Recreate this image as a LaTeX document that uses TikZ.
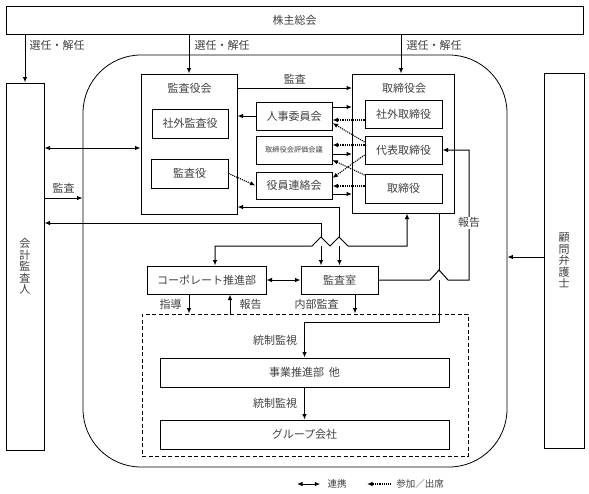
\documentclass[tikz,border=0pt]{standalone}
\usepackage{fontspec}
\setmainfont{Noto Sans CJK JP}
\usetikzlibrary{arrows.meta}

\tikzset{
  box/.style={draw,line width=1pt,inner sep=0pt,align=center,text=black!75},
  lbl/.style={inner sep=1pt,text=black!75},
  conn/.style={line width=1pt},
  sanka/.style={line width=1.1pt,densely dotted},
}

\begin{document}
\begin{tikzpicture}[x=1pt,y=-1pt,>={Latex[length=5.5pt,width=4.5pt]},font=\fontsize{11}{11.5}\selectfont]
  \useasboundingbox (0,0) rectangle (589,493);
  \node[draw,line width=0.8pt,rounded corners=58pt,minimum width=424,minimum height=412] (honsha) at (295,261) {};
  \node[draw,dash pattern=on 4pt off 2.5pt,line width=1pt,minimum width=326,minimum height=142] (tousei) at (305,385) {};
  \begin{scope}[every node/.style={box}]
  \node[minimum width=577,minimum height=28] (soukai) at (294.5,20) {株主総会};
  \node[minimum width=38,minimum height=367] (kaikei) at (25,266.5) {会\\計\\監\\査\\人};
  \node[minimum width=40,minimum height=375] (komon) at (564,260.5) {顧\\問\\弁\\護\\士};
  \node[minimum width=96,minimum height=140] (kansayakukai) at (189,144) {};
  \node[minimum width=102,minimum height=139] (torishimariyakukai) at (403.5,143.5) {};
  \node[minimum width=76,minimum height=29] (shagaikansa) at (190,123.5) {社外監査役};
  \node[minimum width=77,minimum height=29] (kansayaku) at (189.5,173.5) {監査役};
  \node[minimum width=77,minimum height=28] (shagaitori) at (403.5,114) {社外取締役};
  \node[minimum width=77,minimum height=28] (daihyo) at (403.5,150) {代表取締役};
  \node[minimum width=77,minimum height=29] (torishimariyaku) at (403.5,188.5) {取締役};
  \node[minimum width=76,minimum height=28] (jinji) at (294,116) {人事委員会};
  \node[minimum width=76,minimum height=28,font=\fontsize{7.2}{8}\selectfont] (hyoka) at (294,150) {取締役会評価会議};
  \node[minimum width=76,minimum height=27] (renraku) at (294,185.5) {役員連絡会};
  \node[minimum width=119,minimum height=28] (corp) at (206.5,280) {コーポレート推進部};
  \node[minimum width=77,minimum height=28] (kansashitsu) at (339.5,280) {監査室};
  \node[minimum width=289,minimum height=29] (jigyo) at (304.5,372.5) {事業推進部\hspace{0.45em}他};
  \node[minimum width=289,minimum height=29] (groupco) at (304.5,434.5) {グループ会社};
  \end{scope}
  \node[lbl] (kansayakukai-t) at (189.5,88) {監査役会};
  \node[lbl] (torishimariyakukai-t) at (404,88) {取締役会};

  \draw[conn,->] (soukai.south -| kaikei.north) -- node[pos=0.22,right,lbl,xshift=3pt]{選任・解任} (kaikei.north);
  \draw[conn,->] (soukai.south -| kansayakukai.north) -- node[pos=0.28,right,lbl,xshift=4pt]{選任・解任} (kansayakukai.north);
  \draw[conn,->] ([xshift=-2.5pt]soukai.south -| torishimariyakukai.north) -- node[pos=0.28,right,lbl,xshift=4pt]{選任・解任} ([xshift=-2.5pt]torishimariyakukai.north);
  \draw[conn,->] (kansayakukai.east |- kansayakukai-t) -- node[above,lbl,yshift=2pt]{監査} (torishimariyakukai.west |- kansayakukai-t);

  \draw[conn,->] (jinji.west) -- (jinji.west -| kansayakukai.east);
  \draw[conn,->] ([yshift=9pt]jinji.east) -- ([yshift=9pt]jinji.east -| torishimariyakukai.west);
  \draw[conn,->] ([yshift=-4pt]hyoka.east) -- ([yshift=-4pt]hyoka.east -| torishimariyakukai.west);
  \draw[conn,->] ([yshift=-8.5pt]renraku.east) -- ([yshift=-8.5pt]renraku.east -| torishimariyakukai.west);
  \draw[sanka,->] ([yshift=-6pt]shagaitori.west) -- ([yshift=-6pt]shagaitori.west -| jinji.east);
  \draw[sanka,->] ([yshift=8pt]daihyo.west) -- ([yshift=-7pt]jinji.east);
  \draw[sanka,->] ([yshift=5pt]daihyo.west) -- ([yshift=5pt]daihyo.west -| hyoka.east);
  \draw[sanka,->] ([yshift=-5pt]daihyo.west) -- ([yshift=7.5pt]renraku.east);
  \draw[sanka,->] ([yshift=13.5pt]torishimariyaku.west) -- ([yshift=-10pt]hyoka.east);
  \draw[sanka,->] ([yshift=2.5pt]torishimariyaku.west) -- ([yshift=2.5pt]torishimariyaku.west -| renraku.east);
  \draw[sanka,->] (kansayaku.east) -- (renraku.west);

  \draw[conn,<->] ([yshift=-4pt]kansayakukai.west -| kaikei.east) -- ([yshift=-4pt]kansayakukai.west);
  \draw[conn,->] ([yshift=68.5pt]kaikei.east) -- ([yshift=68.5pt]kaikei.east -| honsha.west) node[midway,above,lbl,yshift=3pt]{監査};
  \draw[conn,->] ([yshift=3.5pt]komon.west) -- ([yshift=3.5pt]komon.west -| honsha.east);

  \draw[conn,<->] ([yshift=43.5pt]kaikei.east) -| ([xshift=-18.5pt]kansashitsu.north);
  \draw[conn,<->] ([yshift=-63pt]kansayakukai.east) -| (kansashitsu.north);
  \draw[conn,->] ([xshift=35.5pt]torishimariyakukai.south) |- ([yshift=35pt]jigyo.north) -- node[left,lbl,xshift=-6pt]{統制監視} (jigyo.north);
  \draw[conn,->] (jigyo.south) -- node[left,lbl,xshift=-6pt]{統制監視} (groupco.north);

  \coordinate (hump1) at (312,246);
  \coordinate (hump3) at (430,280);
  \coordinate (rpt) at (469,280);
  \fill[white] (hump1) -- ++(9,-9) -- ++(9,9) -- ++(9,-9) -- ++(9,9) -- cycle;
  \fill[white] (hump3) -- ++(9,-10) -- ++(9,10) -- cycle;
  \draw[conn,<->] ([xshift=8.5pt]corp.north) |- (hump1) -- ++(9,-9) -- ++(9,9) -- ++(9,-9) -- ++(9,9) -| ([xshift=3.5pt]torishimariyakukai.south);
  \draw[conn,->] (kansashitsu.east) -- (hump3) -- ++(9,-10) -- ++(9,10) -- (rpt) |- node[pos=0.22,fill=white,lbl]{報告} (daihyo.east);
  \draw[conn,<->] (corp.east) -- (kansashitsu.west);

  \draw[conn,->] ([xshift=-17.5pt]corp.south) -- ([xshift=-17.5pt]corp.south |- tousei.north) node[midway,left,lbl,xshift=-6pt]{指導};
  \draw[conn,->] ([xshift=23.5pt]corp.south |- tousei.north) -- ([xshift=23.5pt]corp.south) node[midway,right,lbl,xshift=8pt]{報告};
  \draw[conn,->] ([xshift=15.5pt]kansashitsu.south) -- ([xshift=15.5pt]kansashitsu.south |- tousei.north) node[midway,left,lbl,xshift=-15pt]{内部監査};

  \node[lbl,font=\fontsize{9.5}{10}\selectfont] (renkei) at (337,484) {連携};
  \node[lbl,font=\fontsize{9.5}{10}\selectfont] (sankashusseki) at (420,484) {参加／出席};
  \coordinate (renkei-a) at (297,484);
  \coordinate (sanka-a) at (367,484);
  \draw[conn,<->] (renkei-a) -- ([xshift=-6pt]renkei.west);
  \draw[sanka,->] ([xshift=-4pt]sankashusseki.west) -- (sanka-a);
\end{tikzpicture}
\end{document}
